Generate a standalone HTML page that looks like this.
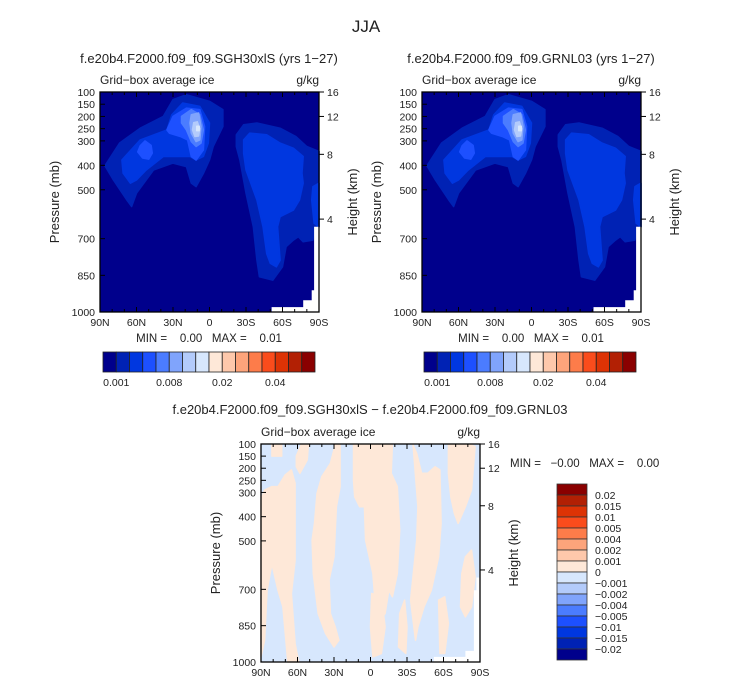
<!DOCTYPE html>
<html><head><meta charset="utf-8">
<style>
body{margin:0;background:#fff;}
svg{display:block;font-family:"Liberation Sans",sans-serif;}
text{fill:#222;white-space:pre;}
</style></head>
<body>
<svg id="fig" width="733" height="686" viewBox="0 0 733 686" xmlns="http://www.w3.org/2000/svg">
<text x="366" y="32" font-size="17" text-anchor="middle">JJA</text>
<text x="209" y="63" font-size="13" text-anchor="middle">f.e20b4.F2000.f09_f09.SGH30xlS (yrs 1−27)</text>
<text x="531" y="63" font-size="13" text-anchor="middle">f.e20b4.F2000.f09_f09.GRNL03 (yrs 1−27)</text>
<text x="370" y="414" font-size="13" text-anchor="middle">f.e20b4.F2000.f09_f09.SGH30xlS − f.e20b4.F2000.f09_f09.GRNL03</text>
<g id="layer"></g>
</svg>
<script>
// ---- data ----
const latTicks = [90, 60, 30, 0, -30, -60, -90];
const latTickLabels = ["90N", "60N", "30N", "0", "30S", "60S", "90S"];
const presTicks = [100, 150, 200, 250, 300, 400, 500, 700, 850, 1000];
const heightTickLabels = ["16", "12", "8", "4"];
const heightTickPres = [100, 200, 355, 620];
const cbColors = ["#00008c","#0022b4","#0037e0","#1d50ff","#4b7cff","#80a4fc","#b3cbfb","#d7e7fd","#fee8d8","#fec8ab","#fda47b","#fd7c4a","#fa4c1c","#dd3305","#b22004","#8a0000"];
const cb1Labels = ["0.001", "0.008", "0.02", "0.04"];
const cb1LabelIdx = [1, 5, 9, 13];
const cb3Labels = ["0.02","0.015","0.01","0.005","0.004","0.002","0.001","0","−0.001","−0.002","−0.004","−0.005","−0.01","−0.015","−0.02"];
// contour regions: [colorIndex, [[lat, pressure], ...]]
const iceRegions = [
 [1, [[86,402],[74,309],[57,248],[38,200],[30,131],[19,111],[0,138],[-11,172],[-11,241],[-3,323],[0,378],[5,433],[11,487],[15,473],[19,405],[30,391],[46,419],[60,514],[64,569],[68,542],[79,460]]],
 [1, [[-22,275],[-28,234],[-39,227],[-58,248],[-71,282],[-80,323],[-90,343],[-90,651],[-87,651],[-85,706],[-77,713],[-73,692],[-69,706],[-63,733],[-60,815],[-52,870],[-41,856],[-39,788],[-36,651],[-30,514],[-25,378],[-22,323]]],
 [2, [[72,378],[57,296],[35,255],[31,193],[22,145],[8,159],[0,227],[1,309],[5,364],[11,378],[16,364],[24,364],[38,364],[52,419],[60,460],[65,473],[71,432]]],
 [2, [[-28,296],[-33,268],[-47,275],[-58,309],[-69,330],[-77,364],[-76,432],[-77,473],[-74,542],[-69,583],[-58,610],[-56,651],[-58,788],[-55,815],[-50,801],[-47,761],[-44,651],[-39,542],[-30,419],[-28,350]]],
 [2, [[-85,487],[-90,473],[-90,651],[-86,637],[-84,542]]],
 [3, [[57,320],[53,300],[48,318],[47,350],[50,375],[55,370],[59,345]]],
 [3, [[35,255],[30,200],[19,166],[8,172],[4,241],[5,337],[11,378],[15,364],[18,296],[24,282],[33,268]]],
 [4, [[23,200],[15,172],[8,193],[5,255],[7,309],[11,323],[15,303],[19,255],[23,227]]],
 [5, [[15,193],[9,186],[7,241],[8,296],[11,303],[15,268],[16,227]]],
 [6, [[13,225],[10,222],[8,250],[9,280],[12,282],[14,255]]],
 [7, [[10.5,240],[8.5,240],[8.5,258],[10.5,258]]]
];
const iceMissing = [[-51,980],[-77,980],[-77,952],[-84,952],[-84,911],[-86,911],[-86,651],[-90,651],[-90,1000],[-51,1000]];
const diffRegions = [
 [[90,330],[87,290],[81,276],[76,276],[70,227],[65,207],[62,262],[62,580],[65,717],[62,924],[59,1000],[68,1000],[72,772],[76,704],[81,594],[85,704],[87,910],[90,979]],
 [[81,104],[73,104],[73,150],[81,150]],
 [[61,150],[57,104],[51,104],[52,166],[58,221],[61,194]],
 [[44,304],[40,235],[33,180],[29,104],[25,104],[25,276],[28,359],[30,566],[34,662],[33,800],[29,855],[26,910],[30,938],[37,882],[43,800],[47,635],[48,497],[46,428]],
 [[14,104],[10,104],[-18,104],[-17,221],[-22,276],[-24,456],[-22,635],[-18,731],[-15,704],[-12,800],[-6,841],[-4,772],[-2,635],[4,497],[5,359],[9,359],[13,318],[14,249]],
 [[-1,717],[-9,731],[-12,855],[-9,965],[-2,979],[0,855]],
 [[-35,104],[-38,139],[-42,221],[-47,221],[-53,194],[-57,207],[-58,428],[-56,566],[-50,704],[-44,772],[-39,855],[-37,910],[-33,745],[-38,497],[-39,359]],
 [[-28,745],[-30,855],[-29,965],[-23,938],[-24,800]],
 [[-64,104],[-83,104],[-86,111],[-83,290],[-78,359],[-72,428],[-69,387],[-66,318],[-64,221]],
 [[-78,566],[-83,538],[-86,648],[-83,772],[-78,814],[-74,772],[-75,635]],
 [[-56,745],[-61,731],[-64,841],[-61,965],[-57,965]]
];
const diffMissing = [[-52,979],[-78,979],[-78,954],[-85,954],[-85,704],[-87,704],[-87,651],[-90,651],[-90,1000],[-52,1000]];

// ---- drawing ----
const NS = "http://www.w3.org/2000/svg";
const layer = document.getElementById("layer");
function el(tag, attrs, parent, txt) {
  const e = document.createElementNS(NS, tag);
  for (const k in attrs) e.setAttribute(k, attrs[k]);
  if (txt !== undefined) e.textContent = txt;
  (parent || layer).appendChild(e);
  return e;
}
function makeAxes(x0, y0, w, h) {
  return {
    x: lat => x0 + (90 - lat) / 180 * w,
    y: p => y0 + (p - 100) / 900 * h
  };
}
function pts(poly, ax) { return poly.map(q => ax.x(q[0]).toFixed(1) + "," + ax.y(q[1]).toFixed(1)).join(" "); }

function drawPanel(prefix, x0, y0, w, h, bg, regions, missing, regionColor) {
  const ax = makeAxes(x0, y0, w, h);
  const g = el("g", {});
  
  
  const bgRect = el("rect", {x: x0, y: y0, width: w, height: h, fill: bg}, g);
  
  
  regions.forEach((r, i) => {
    const poly = regionColor ? r : r[1];
    const col = regionColor ? regionColor : cbColors[r[0]];
    const pg = el("polygon", {points: pts(poly, ax), fill: col, stroke: col, "stroke-width": 1.5, "stroke-linejoin": "round"}, g);
    
    
  });
  const ms = el("polygon", {points: pts(missing, ax), fill: "#fff"}, g);
  
  
  const fr = el("rect", {x: x0, y: y0, width: w, height: h, fill: "none", stroke: "#000", "stroke-width": 1.3}, g);
  
  
  for (let lat = 90; lat >= -90; lat -= 10) {
    const major = lat % 30 === 0;
    const L = major ? 5 : 3;
    el("line", {x1: ax.x(lat), y1: y0 + h, x2: ax.x(lat), y2: y0 + h - L, stroke: "#000", "stroke-width": 1}, g);
    el("line", {x1: ax.x(lat), y1: y0, x2: ax.x(lat), y2: y0 + L, stroke: "#000", "stroke-width": 1}, g);
  }
  latTicks.forEach((lat, i) => {
    const t = el("text", {x: ax.x(lat), y: y0 + h + 14, "font-size": 10.5, "text-anchor": "middle"}, g, latTickLabels[i]);
    
    
  });
  presTicks.forEach(p => {
    el("line", {x1: x0, y1: ax.y(p), x2: x0 + 5, y2: ax.y(p), stroke: "#000", "stroke-width": 1}, g);
    const t = el("text", {x: x0 - 5, y: ax.y(p) + 4, "font-size": 10.5, "text-anchor": "end"}, g, String(p));
    
    
  });
  heightTickPres.forEach((p, i) => {
    el("line", {x1: x0 + w, y1: ax.y(p), x2: x0 + w + 5, y2: ax.y(p), stroke: "#000", "stroke-width": 1}, g);
    const t = el("text", {x: x0 + w + 8, y: ax.y(p) + 4, "font-size": 10.5}, g, heightTickLabels[i]);
    
    
  });
  const st = el("text", {x: x0, y: y0 - 8, "font-size": 12}, g, "Grid−box average ice");
  
  
  const un = el("text", {x: x0 + w, y: y0 - 8, "font-size": 12, "text-anchor": "end"}, g, "g/kg");
  
  
  const cy = y0 + h / 2;
  const yl = el("text", {x: x0 - 41, y: cy, "font-size": 13, "text-anchor": "middle", transform: `rotate(-90 ${x0 - 41} ${cy})`}, g, "Pressure (mb)");
  
  
  const hl = el("text", {x: x0 + w + 38, y: cy, "font-size": 13, "text-anchor": "middle", transform: `rotate(-90 ${x0 + w + 38} ${cy})`}, g, "Height (km)");
  
  
}

function drawHBar(prefix, x0, y0, w, h, mmx) {
  const g = el("g", {});
  
  
  const bw = w / cbColors.length;
  cbColors.forEach((c, i) => {
    const r = el("rect", {x: x0 + i * bw, y: y0, width: bw, height: h, fill: c, stroke: "#222", "stroke-width": 0.8}, g);
    
    
  });
  cb1Labels.forEach((s, i) => {
    const t = el("text", {x: x0 + cb1LabelIdx[i] * bw, y: y0 + h + 14, "font-size": 10.5, "text-anchor": "middle"}, g, s);
    
    
  });
  const m = el("text", {x: mmx, y: y0 - 10, "font-size": 11.5, "text-anchor": "middle"}, g, "MIN =    0.00   MAX =    0.01");
  
  
}

function drawVBar(prefix, x0, y0, w, h) {
  const g = el("g", {});
  
  
  const n = cbColors.length, bh = h / n;
  for (let i = 0; i < n; i++) {
    const r = el("rect", {x: x0, y: y0 + i * bh, width: w, height: bh, fill: cbColors[n - 1 - i], stroke: "#333", "stroke-width": 0.8}, g);
    
    
  }
  cb3Labels.forEach((s, i) => {
    const t = el("text", {x: x0 + w + 8, y: y0 + (i + 1) * bh + 4, "font-size": 10.5}, g, s);
    
    
  });
}

drawPanel("panel1", 100, 92, 219, 220, cbColors[0], iceRegions, iceMissing, null);
drawPanel("panel2", 422, 92, 219, 220, cbColors[0], iceRegions, iceMissing, null);
drawPanel("panel3", 261, 444, 219, 218, cbColors[7], diffRegions, diffMissing, cbColors[8]);
drawHBar("panel1", 103, 352, 212, 20, 209);
drawHBar("panel2", 424, 352, 212, 20, 531);
drawVBar("panel3", 557, 484, 30, 176);
const mm3 = el("text", {x: 510, y: 467, "font-size": 11.5}, layer, "MIN =   −0.00   MAX =    0.00");


</script>
</body></html>
